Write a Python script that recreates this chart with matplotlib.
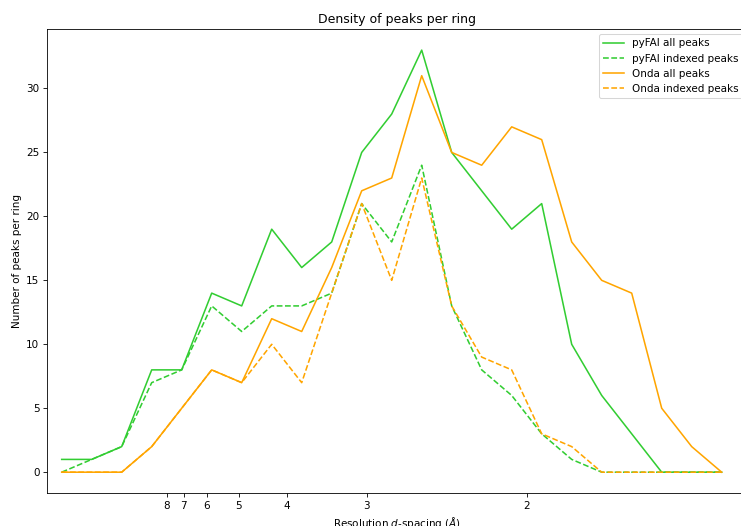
import numpy as np
import matplotlib
matplotlib.use("Agg")
import matplotlib.pyplot as plt

# Rings are equal-width shells in reciprocal resolution (1/d, in 1/Å)
ring_width = 1.0 / 32
n_rings = 23
ring_centres = (np.arange(n_rings) + 0.5) * ring_width

pyfai_all = [1, 1, 2, 8, 8, 14, 13, 19, 16, 18, 25, 28, 33, 25, 22, 19, 21, 10, 6, 3, 0, 0, 0]
pyfai_indexed = [0, 1, 2, 7, 8, 13, 11, 13, 13, 14, 21, 18, 24, 13, 8, 6, 3, 1, 0, 0, 0, 0, 0]
onda_all = [0, 0, 0, 2, 5, 8, 7, 12, 11, 16, 22, 23, 31, 25, 24, 27, 26, 18, 15, 14, 5, 2, 0]
onda_indexed = [0, 0, 0, 2, 5, 8, 7, 10, 7, 14, 21, 15, 23, 13, 9, 8, 3, 2, 0, 0, 0, 0, 0]

d_ticks = [8, 7, 6, 5, 4, 3, 2]
d_tick_labels = ["8", "7", "6", "5", "4", "3", "2"]

W, H, DPI = 741, 526, 75
fig = plt.figure(figsize=(W / DPI, H / DPI), dpi=DPI)
ax_left, ax_right, ax_top, ax_bottom = 46.7, 748.0, 29.0, 493.3
ax = fig.add_axes([ax_left / W, 1 - ax_bottom / H,
                   (ax_right - ax_left) / W, (ax_bottom - ax_top) / H])

ax.plot(ring_centres, pyfai_all, color="limegreen", linestyle="-", label="pyFAI all peaks")
ax.plot(ring_centres, pyfai_indexed, color="limegreen", linestyle="--", label="pyFAI indexed peaks")
ax.plot(ring_centres, onda_all, color="orange", linestyle="-", label="Onda all peaks")
ax.plot(ring_centres, onda_indexed, color="orange", linestyle="--", label="Onda indexed peaks")

ax.set_xlim(0, (ax_right - ax_left) / 960.0)
ax.set_xticks([1.0 / d for d in d_ticks])
ax.set_xticklabels(d_tick_labels)

ax.set_title("Density of peaks per ring")
ax.set_xlabel("Resolution $d$-spacing ($\\AA$)")
ax.set_ylabel("Number of peaks per ring")
ax.legend(loc="upper right")

fig.savefig("out.png", dpi=DPI)
